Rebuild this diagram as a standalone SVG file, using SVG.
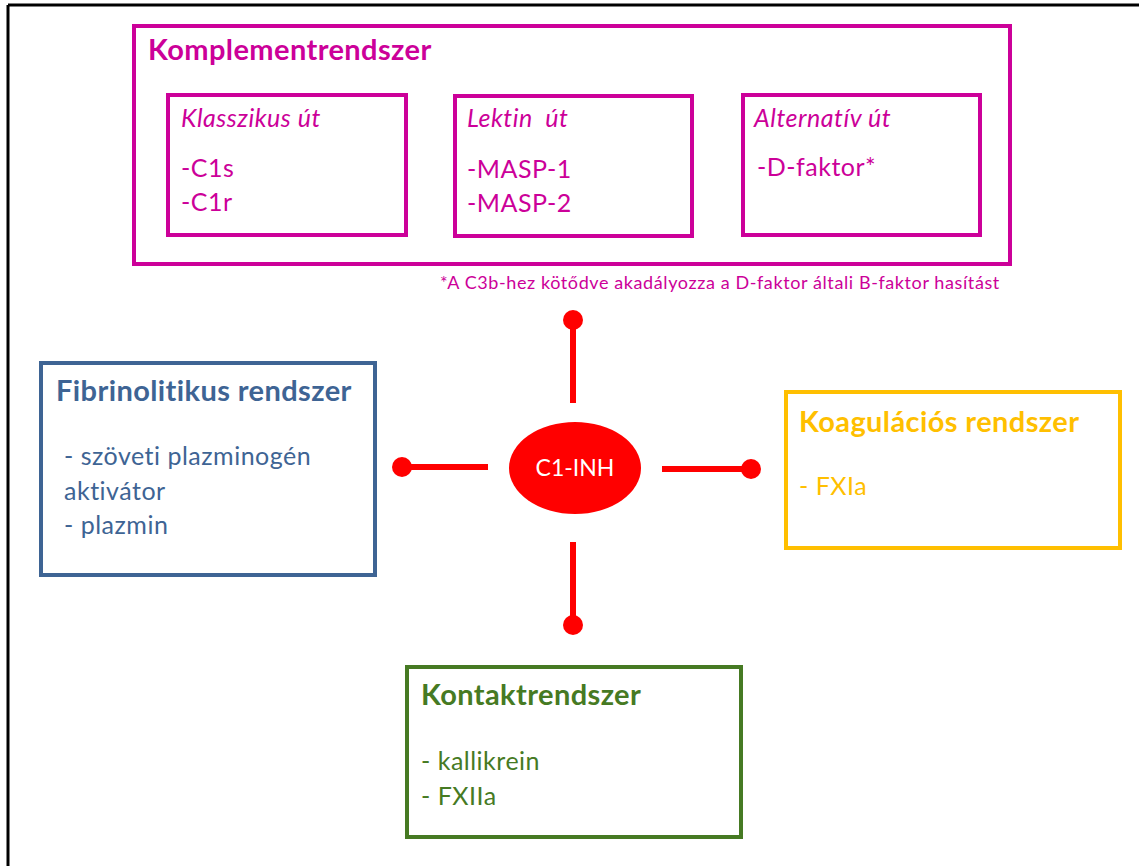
<svg xmlns="http://www.w3.org/2000/svg" width="1139" height="866" viewBox="0 0 1139 866">
<style>
  text { font-family: Lato, "Open Sans", "Liberation Sans", sans-serif; }
  .t { font-weight: bold; font-size: 29px; letter-spacing: 0.4px; }
  .b { font-size: 25px; letter-spacing: 0.5px; }
  .i { font-size: 25px; font-style: italic; letter-spacing: 0.5px; }
  .pink { fill: #CC0099; }
  .pinkbox { fill: none; stroke: #CC0099; stroke-width: 4; }
  .blue { fill: #3E6494; }
  .amber { fill: #FFBF00; }
  .green { fill: #467A23; }
  .conn { stroke: #FF0000; stroke-width: 6; }
  .dot { fill: #FF0000; }
</style>
<rect x="0" y="0" width="1139" height="866" fill="#ffffff"/>
<g id="frame">
  <line x1="8" y1="5" x2="1139" y2="5" stroke="#000" stroke-width="3"/>
  <line x1="8" y1="5" x2="8" y2="866" stroke="#000" stroke-width="3"/>
</g>
<g id="komplement">
  <rect class="pinkbox" x="134" y="26" width="876" height="238"/>
  <text class="t pink" x="148" y="60">Komplementrendszer</text>
  <g id="klasszikus">
    <rect class="pinkbox" x="168" y="95" width="238" height="140"/>
    <text class="i pink" x="181" y="127">Klasszikus út</text>
    <text class="b pink" x="181" y="177">-C1s</text>
    <text class="b pink" x="181" y="211">-C1r</text>
  </g>
  <g id="lektin">
    <rect class="pinkbox" x="455" y="96" width="237" height="140"/>
    <text class="i pink" x="467" y="127" xml:space="preserve">Lektin  út</text>
    <text class="b pink" x="467" y="178">-MASP-1</text>
    <text class="b pink" x="467" y="212">-MASP-2</text>
  </g>
  <g id="alternativ">
    <rect class="pinkbox" x="743" y="95" width="237" height="140"/>
    <text class="i pink" x="754" y="127">Alternatív út</text>
    <text class="b pink" x="757" y="176">-D-faktor*</text>
  </g>
</g>
<text id="footnote" class="pink" x="440" y="289" font-size="18" letter-spacing="0.6">*A C3b-hez kötődve akadályozza a D-faktor általi B-faktor hasítást</text>
<g id="fibrinolitikus">
  <rect x="41" y="363" width="334" height="212" fill="none" stroke="#3E6494" stroke-width="4"/>
  <text class="t blue" x="56" y="401">Fibrinolitikus rendszer</text>
  <text class="b blue" x="64" y="465">- szöveti plazminogén</text>
  <text class="b blue" x="64" y="500">aktivátor</text>
  <text class="b blue" x="64" y="534">- plazmin</text>
</g>
<g id="koagulacios">
  <rect x="786" y="392" width="334" height="156" fill="none" stroke="#FFBF00" stroke-width="4"/>
  <text class="t amber" x="799" y="432">Koagulációs rendszer</text>
  <text class="b amber" x="799" y="495">- FXIa</text>
</g>
<g id="kontakt">
  <rect x="407" y="667" width="334" height="170" fill="none" stroke="#467A23" stroke-width="4"/>
  <text class="t green" x="421" y="705">Kontaktrendszer</text>
  <text class="b green" x="421" y="770">- kallikrein</text>
  <text class="b green" x="421" y="805">- FXIIa</text>
</g>
<g id="c1inh">
  <ellipse cx="575" cy="468" rx="66" ry="46" fill="#FF0000"/>
  <text x="575" y="476" font-size="23" fill="#ffffff" text-anchor="middle">C1-INH</text>
</g>
<g id="connectors">
  <line class="conn" x1="573" y1="320" x2="573" y2="403"/>
  <circle class="dot" cx="573" cy="320" r="10"/>
  <line class="conn" x1="402" y1="467" x2="488" y2="467"/>
  <circle class="dot" cx="402" cy="467" r="10"/>
  <line class="conn" x1="662" y1="469" x2="751" y2="469"/>
  <circle class="dot" cx="751" cy="469" r="10"/>
  <line class="conn" x1="573" y1="542" x2="573" y2="625"/>
  <circle class="dot" cx="573" cy="625" r="10"/>
</g>
</svg>
